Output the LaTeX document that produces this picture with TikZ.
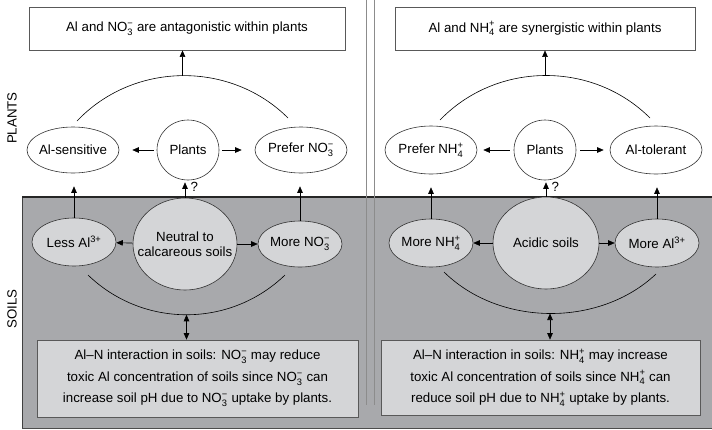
\documentclass[tikz,border=0pt]{standalone}
\usepackage{amsmath}
\usepackage{fontspec}
\setmainfont{Liberation Sans}
\usetikzlibrary{shapes.geometric,arrows.meta}
\definecolor{soil}{RGB}{168,169,172}
\definecolor{pale}{RGB}{212,213,215}
\newcommand\ion[3]{#1\ensuremath{_{\text{#2}}^{\text{#3}}}}
\tikzset{
  oval/.style={draw=black!80, ellipse, inner ysep=0pt, inner xsep=-4pt, align=center, line width=0.6pt},
  soiloval/.style={oval, fill=pale},
  msgbox/.style={draw=black!65, rectangle, inner sep=0pt, align=center, line width=0.7pt},
}
\begin{document}
\begin{tikzpicture}[x=1pt,y=-1pt,font=\fontsize{13.3}{15}\selectfont,line width=0.6pt,>={Triangle[length=6.5pt,width=5.5pt]}]
\useasboundingbox (0,0) rectangle (712,429);
\fill[soil] (22,197) rectangle (713,429);
\draw[black!75,line width=0.8pt] (22,429) -- (22,197);
\draw[black!70] (22,428.5) -- (713,428.5);
\draw[black!85,line width=1.6pt] (22,197) -- (713,197);
\draw[black!45,line width=0.7pt] (366,0) -- (366,405);
\draw[black!45,line width=0.7pt] (374,0) -- (374,405);
\node[rotate=90] (plantslab) at (12,118) {PLANTS};
\node[rotate=90] (soilslab) at (12,309) {SOILS};
\node[msgbox, minimum width=316, minimum height=43] (lmsg) at (187,28.5) {Al and \ion{NO}{3}{−} are antagonistic within plants};
\node[oval, minimum width=92, minimum height=46] (lsens) at (73,150) {Al-sensitive};
\node[oval, minimum width=62, minimum height=60] (lplants) at (188,150) {Plants};
\node[oval, minimum width=92, minimum height=46] (lpref) at (301,150) {Prefer \ion{NO}{3}{−}};
\node[soiloval, minimum width=84, minimum height=48] (lless) at (74,242) {Less Al\textsuperscript{3+}};
\node[soiloval, inner xsep=-14pt, minimum width=104, minimum height=92] (lneut) at (185,244) {Neutral to\\calcareous soils};
\node[soiloval, minimum width=84, minimum height=46] (lmore) at (300,244) {More \ion{NO}{3}{−}};
\node[msgbox, fill=pale, minimum width=321, minimum height=77, font=\fontsize{13.3}{21.5}\selectfont] (lint) at (197.5,378.5) {Al–N interaction in soils: \ion{NO}{3}{−} may reduce\\toxic Al concentration of soils since \ion{NO}{3}{−} can\\increase soil pH due to \ion{NO}{3}{−} uptake by plants.};
\node[msgbox, minimum width=300, minimum height=43] (rmsg) at (545,28.5) {Al and \ion{NH}{4}{+} are synergistic within plants};
\node[oval, minimum width=92, minimum height=48] (rpref) at (431,150) {Prefer \ion{NH}{4}{+}};
\node[oval, minimum width=62, minimum height=60] (rplants) at (545,150) {Plants};
\node[oval, minimum width=92, minimum height=48] (rtol) at (656,150) {Al-tolerant};
\node[soiloval, minimum width=84, minimum height=48] (rmore) at (431,243) {More \ion{NH}{4}{+}};
\node[soiloval, minimum width=106, minimum height=92] (racid) at (546,243) {Acidic soils};
\node[soiloval, minimum width=84, minimum height=48] (ral) at (657,243) {More Al\textsuperscript{3+}};
\node[msgbox, fill=pale, minimum width=319, minimum height=75, font=\fontsize{13.3}{21.5}\selectfont] (rint) at (540.5,377.5) {Al–N interaction in soils: \ion{NH}{4}{+} may increase\\toxic Al concentration of soils since \ion{NH}{4}{+} can\\reduce soil pH due to \ion{NH}{4}{+} uptake by plants.};
\coordinate (la) at (77,121);
\coordinate (lb) at (288,118);
\coordinate (lc) at (88,275);
\coordinate (ld) at (285,275);
\coordinate (ra) at (440,120);
\coordinate (rb) at (650,118);
\coordinate (rc) at (444,272);
\coordinate (rd) at (656,274);
\draw (la) .. controls (134,61) and (231,61) .. (lb) coordinate[pos=0.5] (ltop);
\draw (lc) .. controls (143,328) and (230,328) .. (ld) coordinate[pos=0.5] (lbot);
\draw (ra) .. controls (497,61) and (593,61) .. (rb) coordinate[pos=0.5] (rtop);
\draw (rc) .. controls (500,327) and (600,327) .. (rd) coordinate[pos=0.5] (rbot);
\draw[->] (ltop) -- (ltop |- lmsg.south);
\draw[->] (rtop) -- (rtop |- rmsg.south);
\draw[<->] (lbot) -- (lbot |- lint.north);
\draw[<->] (rbot) -- (rbot |- rint.north);
\draw[->, shorten <=3pt, shorten >=13pt] (lplants) -- (lsens);
\draw[->, shorten <=3pt, shorten >=13pt] (lplants) -- (lpref);
\draw[->, shorten <=4pt, shorten >=6pt] (rplants) -- (rpref);
\draw[->, shorten <=4pt, shorten >=6pt] (rplants) -- (rtol);
\draw[->] (lneut) -- (lless);
\draw[->] (lneut) -- (lmore);
\draw[->] (racid) -- (rmore);
\draw[->] (racid) -- (ral);
\draw[->, shorten >=13pt] (lless.north) -- (lless.north |- lsens.south);
\draw[->, shorten >=13pt] (lmore.north) -- (lmore.north |- lpref.south);
\draw[->, shorten >=13pt] (rmore.north) -- (rmore.north |- rpref.south);
\draw[->, shorten >=13pt] (ral.north) -- (ral.north |- rtol.south);
\draw[->, shorten >=2pt] (lneut.north) -- (lneut.north |- lplants.south) node[pos=0.6, right=2pt] {?};
\draw[->, shorten >=2pt] (racid.north) -- (racid.north |- rplants.south) node[pos=0.6, right=2pt] {?};
\end{tikzpicture}
\end{document}
